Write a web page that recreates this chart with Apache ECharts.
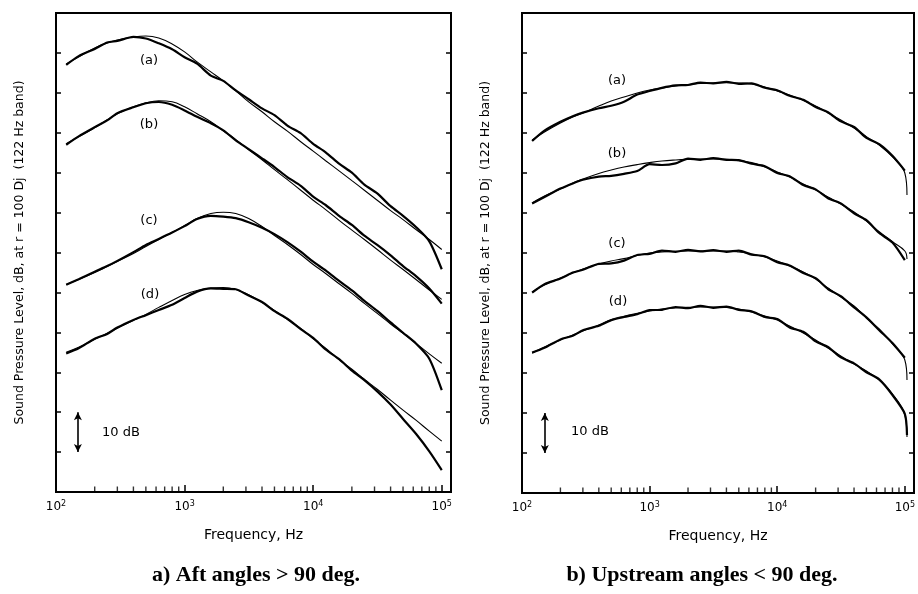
<!DOCTYPE html>
<html>
<head>
<meta charset="utf-8">
<title>Jet noise spectra</title>
<script src="https://cdn.jsdelivr.net/npm/echarts@6/dist/echarts.min.js"></script>
<style>
  html, body { margin: 0; padding: 0; background: #fff; }
  #chart { width: 918px; height: 594px; }
</style>
</head>
<body>
<div id="chart"></div>
<script>
// 1/3-octave frequencies, Hz
var freqsAft = [120, 150, 200, 250, 300, 400, 500, 630, 800, 1000, 1250, 1600, 2000, 2500, 3150,
  4000, 5000, 6300, 8000, 10000, 12500, 16000, 20000, 25000, 31500, 40000, 50000, 63000, 80000, 100000]
var freqsUp = [120, 150, 200, 250, 300, 400, 500, 630, 800, 1000, 1250, 1600, 2000, 2500, 3150,
  4000, 5000, 6300, 8000, 10000, 12500, 16000, 20000, 25000, 31500, 40000, 50000, 63000, 80000, 100000, 104000]

// a) aft angles: predicted (smooth) and measured SPL, dB
var aftFitA = [107.25, 109, 111.25, 112.5, 113.25, 114, 114.25, 113.75, 112.25, 110.25, 107.75, 105.25, 103, 100.5, 97.75,
  95.25, 92.75, 90.4, 87.75, 85.4, 83, 80.4, 78, 75.6, 73.1, 70.5, 68.25, 65.75, 63.25, 60.75]
var aftMeasA = [107.0, 109.2, 111.0, 112.6, 113.0, 114.0, 113.6, 112.4, 110.9, 108.9, 107.3, 104.3, 103.0, 100.6, 98.4,
  96.1, 94.4, 91.8, 89.9, 87.2, 85.1, 82.2, 80.0, 77.0, 74.8, 71.6, 69.2, 66.4, 62.8, 55.8]
var aftFitB = [87.25, 89, 91.25, 93.25, 94.75, 96.5, 97.5, 98, 97.75, 96.5, 94.75, 92.75, 90.5, 88.25, 85.75,
  83.25, 80.75, 78.25, 75.6, 73.1, 70.75, 68, 65.6, 63.25, 60.75, 58.1, 55.75, 53.25, 50.6, 48.25]
var aftMeasB = [87.0, 89.1, 91.4, 93.1, 94.9, 96.4, 97.4, 97.7, 97.0, 95.6, 94.0, 92.4, 90.6, 88.1, 85.9,
  83.6, 81.4, 78.9, 76.7, 74.0, 71.9, 69.1, 66.9, 64.2, 61.9, 59.3, 56.6, 54.1, 51.0, 47.2]
var aftFitC = [52, 53.25, 55, 56.5, 57.75, 59.75, 61.5, 63.25, 65, 66.75, 68.5, 69.75, 70.1, 69.75, 68.5,
  66.5, 64.25, 62, 59.5, 57, 54.75, 52.1, 49.75, 47.25, 44.75, 42.1, 39.75, 37.25, 34.6, 32.25]
var aftMeasC = [51.9, 53.3, 55.2, 56.6, 57.9, 60.1, 61.9, 63.4, 65.0, 66.6, 68.4, 69.2, 69.0, 68.6, 67.6,
  66.2, 64.6, 62.6, 60.2, 57.7, 55.5, 52.8, 50.5, 47.9, 45.4, 42.5, 39.9, 37.2, 33.4, 25.5]
var aftFitD = [35, 36.25, 38.25, 39.75, 41, 43, 44.5, 46.25, 48, 49.5, 50.5, 51.1, 51.25, 50.75, 49.4,
  47.5, 45.5, 43.25, 41, 38.4, 36, 33.1, 30.75, 28.25, 25.75, 23, 20.5, 18, 15.25, 12.75]
var aftMeasD = [34.7, 36.0, 38.4, 39.6, 41.2, 43.1, 44.3, 45.6, 46.9, 48.6, 50.2, 51.0, 50.9, 50.8, 49.2,
  47.6, 45.3, 43.4, 40.8, 38.6, 35.7, 33.2, 30.4, 28.0, 25.2, 21.9, 18.3, 14.6, 10.2, 5.5]

// b) upstream angles
var upFitA = [88.25, 90.25, 92.5, 94, 95, 96.75, 98, 99, 100, 100.75, 101.25, 101.75, 102.1, 102.4, 102.5,
  102.6, 102.5, 102.25, 101.5, 100.5, 99.5, 98.1, 96.75, 95, 93.25, 91.25, 89.1, 87, 84, 80, 74.5]
var upMeasA = [88.0, 90.6, 92.8, 94.2, 95.1, 96.2, 96.8, 97.8, 99.6, 100.5, 101.3, 101.9, 102.0, 102.6, 102.4,
  102.8, 102.3, 102.4, 101.3, 100.7, 99.3, 98.3, 96.5, 95.2, 92.9, 91.5, 88.8, 87.2, 84.3, 80.6, null]
var upFitB = [72.5, 74.25, 76, 77.5, 78.5, 79.9, 80.75, 81.5, 82.1, 82.6, 83, 83.25, 83.4, 83.5, 83.5,
  83.4, 83.1, 82.6, 81.5, 80.25, 79, 77.25, 75.75, 74, 72.25, 70.25, 68, 65.3, 62.8, 60.5, 58.5]
var upMeasB = [72.4, 74.0, 76.1, 77.4, 78.3, 79.1, 79.3, 79.8, 80.5, 82.2, 82.0, 82.4, 83.6, 83.3, 83.7,
  83.3, 83.2, 82.3, 81.7, 80.0, 79.2, 77.0, 75.9, 73.7, 72.4, 69.9, 68.2, 65.0, 62.6, 58.2, null]
var upFitC = [50.25, 52, 53.75, 55, 56, 57.25, 58, 58.6, 59.4, 60, 60.25, 60.4, 60.5, 60.5, 60.5,
  60.5, 60.25, 59.75, 59, 58, 56.75, 55.25, 53.5, 51.25, 49, 46.75, 43.75, 41, 37.25, 33.25, 28.25]
var upMeasC = [50.1, 52.2, 53.6, 55.1, 55.8, 57.3, 57.4, 58.1, 59.5, 59.8, 60.6, 60.3, 60.8, 60.4, 60.7,
  60.3, 60.6, 59.6, 59.2, 57.7, 56.9, 55.0, 53.7, 51.0, 49.2, 46.4, 43.9, 40.7, 37.5, 33.8, null]
var upFitD = [35, 36.5, 38.25, 39.5, 40.5, 42, 43.4, 44.2, 44.9, 45.5, 46, 46.25, 46.4, 46.5, 46.5,
  46.4, 46, 45.25, 44.25, 43.25, 41.75, 40, 38.25, 36.25, 34.25, 32.25, 30.5, 28.25, 24.75, 19.5, 14]
var upMeasD = [35.1, 36.3, 38.4, 39.3, 40.7, 41.8, 43.2, 44.0, 44.7, 45.7, 45.8, 46.5, 46.2, 46.8, 46.3,
  46.6, 45.8, 45.4, 44.0, 43.5, 41.4, 40.3, 37.9, 36.5, 33.9, 32.4, 30.2, 28.4, 24.5, 19.8, 14.5]

// minor log ticks along the frequency axis
var minorTicks = [200, 300, 400, 500, 600, 700, 800, 900, 2000, 3000, 4000, 5000, 6000, 7000, 8000, 9000,
  20000, 30000, 40000, 50000, 60000, 70000, 80000, 90000]
// 10 dB scale bar: frequency position and its two ends
var scaleBarAft = [148, 10, 20]
var scaleBarUp = [151, 10, 20]

var ylabel = 'Sound Pressure Level, dB, at r = 100 Dj  (122 Hz band)'
var sans = 'DejaVu Sans'

function pairs (fs, vals) {
  return fs.map(function (f, i) { return [f, vals[i]] })
}

function fitLine (gi, fs, vals) {
  return {
    type: 'line', xAxisIndex: gi, yAxisIndex: gi * 2, data: pairs(fs, vals),
    smooth: 0.4, symbol: 'none', silent: true,
    lineStyle: { color: '#000', width: 1.1 }
  }
}

function measLine (gi, fs, vals) {
  return {
    type: 'line', xAxisIndex: gi, yAxisIndex: gi * 2, data: pairs(fs, vals),
    smooth: 0.25, symbol: 'none', silent: true, connectNulls: false,
    lineStyle: { color: '#000', width: 2.2 }
  }
}

function minorTickSeries (gi) {
  return {
    type: 'scatter', xAxisIndex: gi, yAxisIndex: gi * 2, silent: true,
    data: minorTicks.map(function (f) { return [f, 0] }),
    symbol: 'rect', symbolSize: [1.4, 5], symbolOffset: [0, -3],
    itemStyle: { color: '#000' }
  }
}

function scaleBar (gi, bar) {
  return {
    type: 'line', xAxisIndex: gi, yAxisIndex: gi * 2, data: [], silent: true,
    markLine: {
      silent: true, symbol: ['arrow', 'arrow'], symbolSize: [6, 8],
      label: { show: false },
      lineStyle: { color: '#000', width: 1.6, type: 'solid' },
      data: [[{ coord: [bar[0], bar[1]] }, { coord: [bar[0], bar[2]] }]]
    }
  }
}

function xAxisFor (gi) {
  return {
    type: 'log', gridIndex: gi, logBase: 10, min: 100, max: 118000,
    axisLine: { lineStyle: { color: '#000', width: 2 } },
    axisTick: { inside: true, length: 7, lineStyle: { color: '#000', width: 1.5 } },
    splitLine: { show: false },
    axisLabel: {
      margin: 8, color: '#000', fontFamily: sans, fontSize: 12,
      formatter: function (v) {
        var e = Math.log10(v)
        if (Math.abs(e - Math.round(e)) > 1e-6) return ''
        return '10{sup|' + Math.round(e) + '}'
      },
      rich: { sup: { fontSize: 8, fontFamily: sans, verticalAlign: 'top', padding: [0, 0, 6, 0] } }
    },
    name: 'Frequency, Hz', nameLocation: 'middle', nameGap: 36,
    nameTextStyle: { color: '#000', fontFamily: sans, fontSize: 14 }
  }
}

function yAxisFor (gi, side) {
  var ax = {
    type: 'value', gridIndex: gi, position: side, min: 0, max: 120, interval: 10,
    axisLine: { show: true, lineStyle: { color: '#000', width: 2 } },
    axisTick: { show: true, inside: true, length: 5, lineStyle: { color: '#000', width: 1.5 } },
    axisLabel: { show: false },
    splitLine: { show: false }
  }
  if (side === 'left') {
    ax.name = ylabel
    ax.nameLocation = 'middle'
    ax.nameGap = 30
    ax.nameTextStyle = { color: '#000', fontFamily: sans, fontSize: 12.5 }
  }
  return ax
}

function txt (s, x, y, font) {
  return {
    type: 'text', x: x, y: y, silent: true,
    style: { text: s, font: font, fill: '#000', align: 'center', verticalAlign: 'middle' }
  }
}

var chart = echarts.init(document.getElementById('chart'), null, { renderer: 'canvas' })
var lbl = '13px "DejaVu Sans"'
var cap = 'bold 22px "Liberation Serif"'

chart.setOption({
  animation: false,
  backgroundColor: '#fff',
  grid: [
    { left: 56, top: 13, width: 395, height: 479, show: true, borderColor: '#000', borderWidth: 2 },
    { left: 522, top: 13, width: 392, height: 480, show: true, borderColor: '#000', borderWidth: 2 }
  ],
  xAxis: [xAxisFor(0), xAxisFor(1)],
  yAxis: [yAxisFor(0, 'left'), yAxisFor(0, 'right'), yAxisFor(1, 'left'), yAxisFor(1, 'right')],
  series: [
    fitLine(0, freqsAft, aftFitA), measLine(0, freqsAft, aftMeasA),
    fitLine(0, freqsAft, aftFitB), measLine(0, freqsAft, aftMeasB),
    fitLine(0, freqsAft, aftFitC), measLine(0, freqsAft, aftMeasC),
    fitLine(0, freqsAft, aftFitD), measLine(0, freqsAft, aftMeasD),
    minorTickSeries(0), scaleBar(0, scaleBarAft),
    fitLine(1, freqsUp, upFitA), measLine(1, freqsUp, upMeasA),
    fitLine(1, freqsUp, upFitB), measLine(1, freqsUp, upMeasB),
    fitLine(1, freqsUp, upFitC), measLine(1, freqsUp, upMeasC),
    fitLine(1, freqsUp, upFitD), measLine(1, freqsUp, upMeasD),
    minorTickSeries(1), scaleBar(1, scaleBarUp)
  ],
  graphic: [
    txt('(a)', 149, 61, lbl), txt('(b)', 149, 125, lbl),
    txt('(c)', 149, 221, lbl), txt('(d)', 150, 295, lbl),
    txt('(a)', 617, 81, lbl), txt('(b)', 617, 154, lbl),
    txt('(c)', 617, 244, lbl), txt('(d)', 618, 302, lbl),
    txt('10 dB', 121, 433, lbl), txt('10 dB', 590, 432, lbl),
    txt('a) Aft angles > 90 deg.', 256, 575, cap),
    txt('b) Upstream angles < 90 deg.', 702, 575, cap)
  ]
})
</script>
</body>
</html>
